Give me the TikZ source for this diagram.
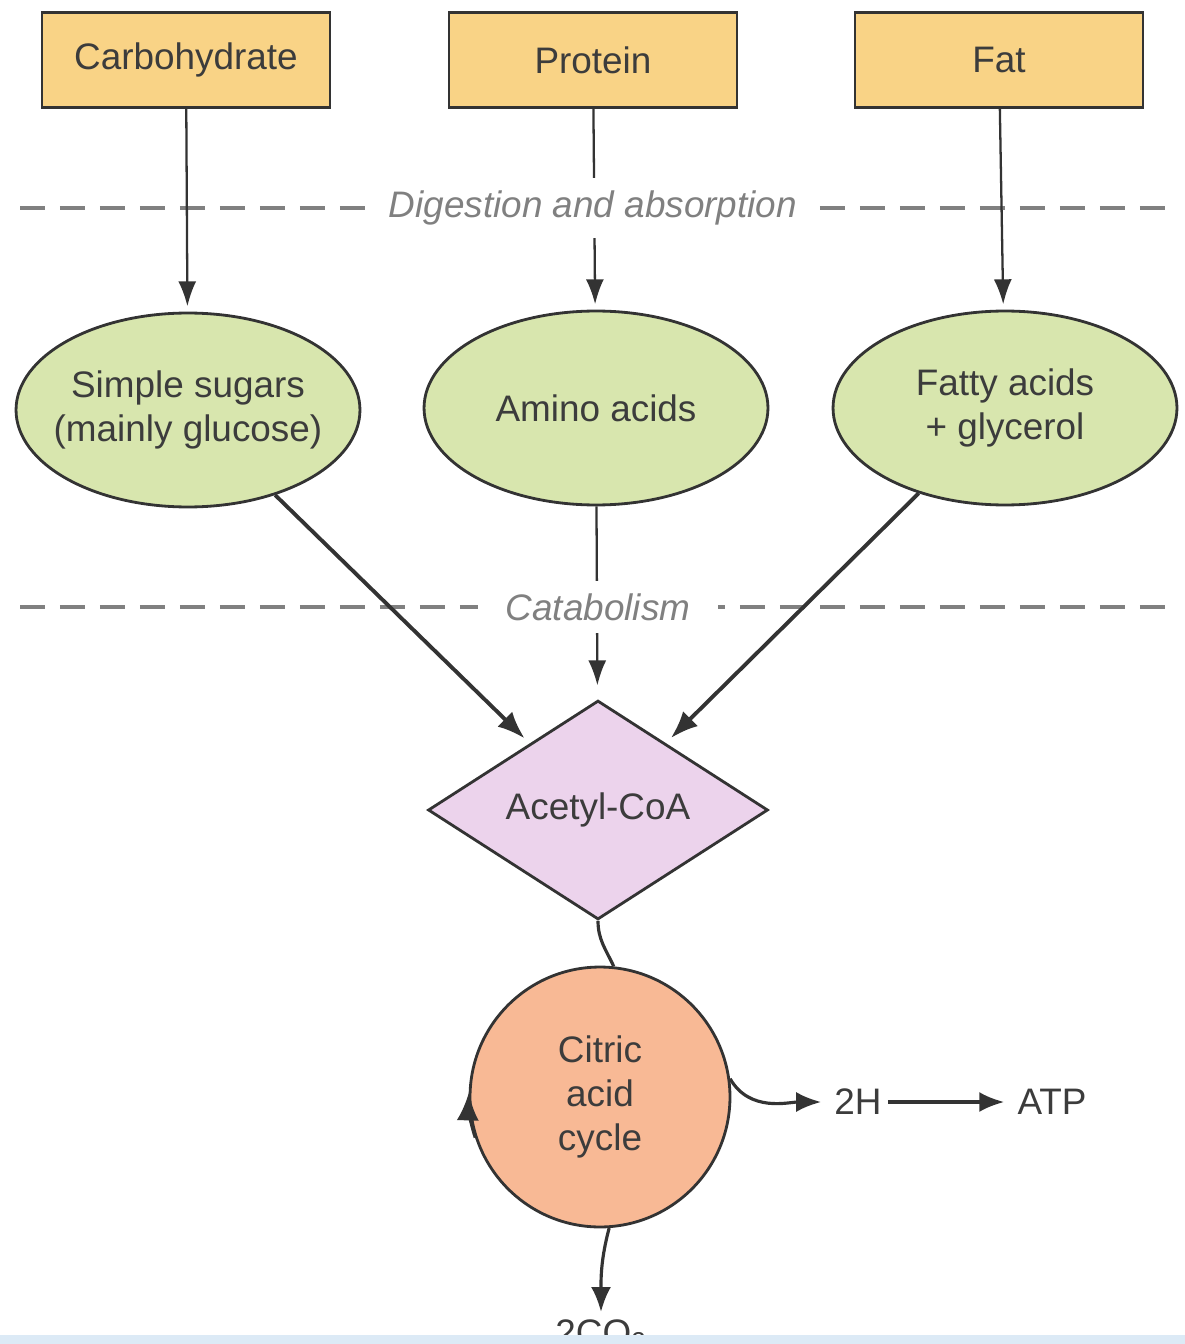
\documentclass[tikz,border=0pt]{standalone}
\usepackage{fontspec}
\setmainfont{Liberation Sans}
\usetikzlibrary{shapes.geometric,arrows.meta}
\definecolor{boxfill}{HTML}{F9D386}
\definecolor{ellfill}{HTML}{D8E6AE}
\definecolor{diafill}{HTML}{ECD3EC}
\definecolor{cycfill}{HTML}{F8B995}
\definecolor{linegray}{HTML}{333333}
\definecolor{txtgray}{HTML}{3C3C3C}
\definecolor{stagegray}{HTML}{808080}
\definecolor{bandblue}{HTML}{DCEAF6}

\begin{document}
\begin{tikzpicture}[x=0.02cm,y=0.02cm,
    every node/.style={font=\fontsize{21}{25}\selectfont, text=txtgray},
    food/.style={draw=linegray, line width=1.6pt, fill=boxfill, minimum width=5.76cm, minimum height=1.9cm},
    product/.style={ellipse, draw=linegray, line width=1.6pt, fill=ellfill, minimum width=6.88cm, minimum height=3.88cm, inner xsep=-1cm, inner ysep=0pt, align=center},
    stage/.style={fill=white, font=\itshape\fontsize{21}{25}\selectfont, text=stagegray, inner xsep=0.4cm, inner ysep=0.25cm},
    divider/.style={stagegray, line width=2.6pt, dash pattern=on 0.5cm off 0.3cm},
    feed/.style={-{Latex[length=0.5cm,width=0.36cm]}, line width=1.3pt, linegray, shorten >=3pt},
    flow/.style={-{Latex[length=0.55cm,width=0.42cm]}, line width=2.2pt, linegray, shorten >=4pt}]

  \clip (0,0) rectangle (1185,-1344);

  % Dashed dividers
  \draw[divider] (20,-208) -- (1168,-208);
  \draw[divider] (20,-607) -- (1168,-607);

  % Foods
  \node[food] (carb) at (186,-60) {Carbohydrate};
  \node[food] (prot) at (593,-60) {Protein};
  \node[food] (fat) at (999,-60) {Fat};

  % Products of digestion
  \node[product] (sugars) at (188,-410) {Simple sugars\\(mainly glucose)};
  \node[product] (amino) at (596,-408) {Amino acids};
  \node[product] (fatty) at (1005,-408) {Fatty acids\\+ glycerol};

  \draw[feed] (carb) -- (sugars);
  \draw[feed] (prot) -- (amino);
  \draw[feed] (fat) -- (fatty);

  % Acetyl-CoA and the cycle
  \node[diamond, draw=linegray, line width=1.6pt, fill=diafill, inner sep=0pt,
        minimum width=6.8cm, minimum height=3.92cm] (acetyl) at (598,-810) {Acetyl-CoA};
  \node[circle, draw=linegray, line width=1.6pt, fill=cycfill, inner sep=0pt,
        minimum size=5.2cm, align=center] (cycle) at (600,-1097) {Citric\\acid\\cycle};

  \draw[flow] (sugars) -- (acetyl);
  \draw[feed, shorten >=8pt] (amino) -- (acetyl);
  \draw[flow] (fatty) -- (acetyl);

  \draw[line width=1.8pt, linegray] (acetyl.south) to[out=-90,in=115] (cycle.84);
  \draw[-{Latex[length=0.55cm,width=0.44cm]}, line width=1.6pt, linegray]
    (cycle.198) arc[start angle=198, end angle=178, radius=2.6cm];

  % Outputs
  \node (twoH) at (858,-1102) {2H};
  \node (atp) at (1052,-1102) {ATP};
  \node[anchor=north, inner sep=4pt] (co2) at (601,-1312) {2CO\textsubscript{2}};
  \draw[-{Latex[length=0.5cm,width=0.4cm]}, line width=1.8pt, linegray, shorten >=4pt]
    (cycle.8) to[out=-60,in=180] (twoH.west);
  \draw[-{Latex[length=0.5cm,width=0.4cm]}, line width=1.8pt, linegray, shorten >=4pt] (twoH) -- (atp);
  \draw[-{Latex[length=0.5cm,width=0.4cm]}, line width=1.8pt, linegray]
    (cycle.-86) to[out=-105,in=90] (co2.north);

  % Stage labels
  \node[stage] (digest) at (593,-208) {Digestion and absorption};
  \node[stage, inner xsep=0.55cm] (catab) at (598,-607) {Catabolism};

  \fill[bandblue] (0,-1335) rectangle (1185,-1344);
\end{tikzpicture}
\end{document}
